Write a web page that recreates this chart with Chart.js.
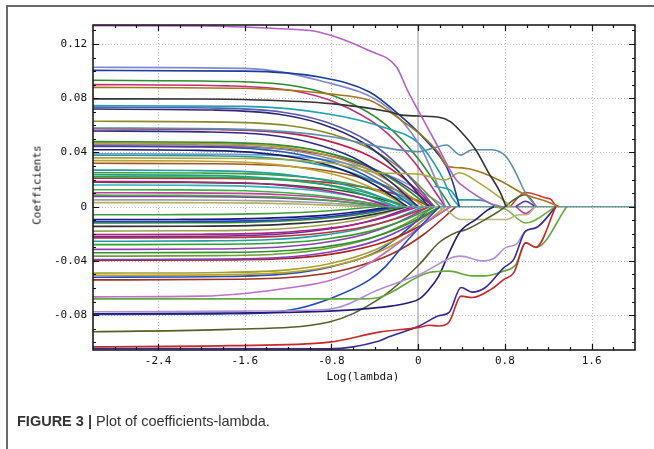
<!DOCTYPE html>
<html>
<head>
<meta charset="utf-8">
<script src="https://cdn.jsdelivr.net/npm/chart.js@4.4.1/dist/chart.umd.min.js"></script>
<style>
  html, body { margin: 0; padding: 0; background: #fff; }
  #wrap { position: relative; width: 654px; height: 449px; overflow: hidden; }
  #frame { position: absolute; left: 6px; top: 5px; width: 700px; height: 500px;
           border-top: 2px solid #6a6a6a; border-left: 2px solid #6a6a6a; }
  #plot { position: absolute; left: 0; top: 0; }
  .ttl { position: absolute; font-family: "DejaVu Sans Mono", monospace; font-size: 11px;
         color: #111; white-space: nowrap; }
  #ytitle { left: 37px; top: 185px; transform: translate(-50%, -50%) rotate(-90deg); }
  #xtitle { left: 363px; top: 376px; transform: translate(-50%, -50%); }
  #caption { position: absolute; left: 17px; top: 413px; font-family: "Liberation Sans", Arial, sans-serif;
             font-size: 14.5px; color: #333; white-space: nowrap; }
</style>
</head>
<body>
<div id="wrap">
  <div id="frame"></div>
  <canvas id="plot" width="654" height="449"></canvas>
  <div class="ttl" id="ytitle">Coefficients</div>
  <div class="ttl" id="xtitle">Log(lambda)</div>
  <div id="caption"><b>FIGURE 3 |</b> Plot of coefficients-lambda.</div>
</div>
<script>
// axes
const xTicks = [-2.4, -1.6, -0.8, 0, 0.8, 1.6];
const xTickLabels = ["-2.4", "-1.6", "-0.8", "0", "0.8", "1.6"];
const yTicks = [-0.08, -0.04, 0, 0.04, 0.08, 0.12];
const yTickLabels = ["-0.08", "-0.04", "0", "0.04", "0.08", "0.12"];

// paths that stand out (drawn on top)
const specialColors = ["#b55fc9", "#333333", "#a8741c", "#5b8fb2", "#a8a840", "#1c3c9c", "#8088d0", "#20a0b0",
  "#c82828", "#3a2898", "#b08fd8", "#62a83c", "#1e1e78", "#55602a", "#2448c0", "#c070c8",
  "#b8b880", "#70b040", "#d03838", "#6030a0", "#c040a0", "#20a0a0", "#6f9a9a"];
const specialPaths = [
  [[-3,.1335],[-2,.1333],[-1.6,.1325],[-1.2,.131],[-0.91,.1287],[-0.45,.115],[-0.2,.103],[-0.1,.086],[0,.071],[0.15,.049],[0.35,.0198],[0.4,.016],[0.65,.003],[0.77,0]],
  [[-3,.0795],[-2,.0794],[-1.6,.079],[-0.8,.076],[-0.27,.070],[-0.15,.0675],[0.19,.066],[0.3,.0626],[0.38,.0565],[0.53,.042],[0.65,.025],[0.76,.010],[0.81,0]],
  [[-3,.088],[-1.6,.0873],[-0.8,.083],[-0.45,.0785],[-0.36,.075],[-0.175,.065],[0.19,.0396],[0.26,.030],[0.405,.0286],[0.56,.026],[0.77,.0186],[0.99,.0088],[1.18,.004],[1.3,0]],
  [[-3,.058],[-1.6,.057],[-0.8,.0516],[-0.36,.0443],[0,.0406],[0.13,.043],[0.26,.0455],[0.39,.038],[0.5,.042],[0.68,.042],[0.81,.037],[0.9,.025],[0.99,.010],[1.06,.003],[1.09,0]],
  [[-3,.036],[-1.6,.0355],[-0.8,.032],[-0.36,.025],[0,.024],[0.25,.0198],[0.38,.025],[0.56,.0176],[0.74,.0076],[0.86,0]],
  [[-3,.1005],[-1.6,.1],[-0.91,.0956],[-0.45,.0846],[-0.15,.066],[0.07,.049],[0.26,.0296],[0.32,.0176],[0.38,0]],
  [[-3,.1028],[-1.6,.102],[-0.91,.093],[-0.29,.0736],[0,.047],[0.15,.022],[0.25,0]],
  [[-3,.0745],[-1.6,.074],[-0.8,.068],[-0.3,.058],[0,.047],[0.2,.025],[0.31,.007],[0.38,0]],
  [[-3,-.1033],[-1.74,-.1025],[-0.82,-.0999],[-0.36,-.0925],[0.01,-.089],[0.1,-.0875],[0.19,-.088],[0.285,-.085],[0.395,-.066],[0.497,-.067],[0.671,-.061],[0.791,-.0536],[0.883,-.0486],[0.993,-.0267],[1.085,-.03],[1.27,0]],
  [[-3,-.1045],[-0.82,-.1048],[-0.36,-.099],[-0.27,-.096],[0.01,-.088],[0.19,-.0805],[0.285,-.078],[0.395,-.0596],[0.497,-.063],[0.62,-.0596],[0.79,-.045],[0.88,-.039],[0.99,-.018],[1.085,-.0156],[1.27,0]],
  [[-3,-.0775],[-1.6,-.077],[-0.82,-.0756],[-0.36,-.061],[0.01,-.05],[0.39,-.0365],[0.59,-.04],[0.7,-.038],[0.81,-.03],[0.9,-.028],[0.99,-.018],[1.09,-.0156],[1.27,0]],
  [[-3,-.068],[-0.5,-.068],[-0.36,-.067],[0.1,-.0486],[0.285,-.0475],[0.497,-.051],[0.62,-.051],[0.79,-.0475],[0.9,-.0426],[0.99,-.0266],[1.09,-.03],[1.37,0]],
  [[-3,-.079],[-1.74,-.0785],[-0.82,-.077],[-0.27,-.0735],[-0.08,-.0707],[0.01,-.068],[0.1,-.061],[0.19,-.051],[0.285,-.034],[0.39,-.018],[0.53,-.0095],[0.65,-.002],[0.7,0]],
  [[-3,-.0922],[-1.74,-.0905],[-0.82,-.085],[-0.36,-.068],[0.01,-.0426],[0.19,-.0266],[0.35,-.019],[0.44,-.017],[0.65,-.008],[0.77,-.002],[0.88,.005],[0.99,.0088],[1.09,0]],
  [[-3,-.0795],[-1.74,-.079],[-1.2,-.0765],[-0.82,-.068],[-0.45,-.054],[-0.3,-.044],[-0.1,-.025],[0.1,-.008],[0.2,0]],
  [[-3,-.0665],[-2,-.066],[-1.6,-.064],[-1.2,-.06],[-0.8,-.054],[-0.5,-.044],[-0.2,-.028],[0.1,-.01],[0.3,0]],
  [[0.15,0],[0.25,-.002],[0.39,-.0095],[0.81,-.0095],[0.93,-.006],[1,-.006],[1.08,0]],
  [[0.7,0],[0.81,-.002],[0.99,-.012],[1.27,0]],
  [[0.85,0],[0.93,.0076],[0.99,.0105],[1.17,.0066],[1.23,.005],[1.27,0]],
  [[0.9,0],[0.99,.004],[1.08,0]],
  [[0.9,0],[0.99,-.005],[1.08,0]],
  [[0.15,.015],[0.3,.012],[0.38,.005],[0.5,.005],[0.62,.004],[0.72,0]],
  [[-0.3,0],[2,0]]
];

// the bulk of positive coefficients
const posColors = ["#2e8b2e", "#c0307a", "#5a5ab8", "#2a2a70", "#8a8a2a", "#c02050", "#2a2a80", "#2e8b2e",
  "#b8962a", "#8c8c8c", "#6a2a9a", "#2a5ab8", "#1a1a6a", "#6aa0d0", "#2a9a9a", "#c0a030", "#a05a20",
  "#20a0a0", "#40a040", "#20a080", "#30a050", "#b02080", "#206020", "#30b0c0", "#40b040", "#c040a0",
  "#50a050", "#8040a0", "#a0a0a0", "#b0b060", "#c03030"];
const posPaths = [
  [[-3,.0932],[-1.7,.0923],[-1.1,.0885],[-0.7,.0792],[-0.3,.0606],[0,.0354],[0.3,0]],
  [[-3,.090],[-1.75,.0891],[-1.15,.0855],[-0.75,.0765],[-0.35,.0585],[-0.05,.0342],[0.25,0]],
  [[-3,.0734],[-1.85,.0727],[-1.25,.0697],[-0.85,.0624],[-0.45,.0477],[-0.15,.0279],[0.15,0]],
  [[-3,.072],[-1.9,.0713],[-1.3,.0684],[-0.9,.0612],[-0.5,.0468],[-0.2,.0274],[0.1,0]],
  [[-3,.063],[-1.8,.0624],[-1.2,.0599],[-0.8,.0536],[-0.4,.041],[-0.1,.0239],[0.2,0]],
  [[-3,.0575],[-1.85,.0569],[-1.25,.0546],[-0.85,.0489],[-0.45,.0374],[-0.15,.0219],[0.15,0]],
  [[-3,.0558],[-2,.0552],[-1.4,.053],[-1,.0474],[-0.6,.0363],[-0.3,.0212],[0,0]],
  [[-3,.048],[-1.9,.0475],[-1.3,.0456],[-0.9,.0408],[-0.5,.0312],[-0.2,.0182],[0.1,0]],
  [[-3,.047],[-1.95,.0465],[-1.35,.0447],[-0.95,.04],[-0.55,.0306],[-0.25,.0179],[0.05,0]],
  [[-3,.046],[-2,.0455],[-1.4,.0437],[-1,.0391],[-0.6,.0299],[-0.3,.0175],[0,0]],
  [[-3,.0448],[-1.85,.0444],[-1.25,.0426],[-0.85,.0381],[-0.45,.0291],[-0.15,.017],[0.15,0]],
  [[-3,.0445],[-2.05,.0441],[-1.45,.0423],[-1.05,.0378],[-0.65,.0289],[-0.35,.0169],[-0.05,0]],
  [[-3,.042],[-2.1,.0416],[-1.5,.0399],[-1.1,.0357],[-0.7,.0273],[-0.4,.016],[-0.1,0]],
  [[-3,.039],[-1.75,.0386],[-1.15,.0371],[-0.75,.0332],[-0.35,.0254],[-0.05,.0148],[0.25,0]],
  [[-3,.038],[-2,.0376],[-1.4,.0361],[-1,.0323],[-0.6,.0247],[-0.3,.0144],[0,0]],
  [[-3,.034],[-2.1,.0337],[-1.5,.0323],[-1.1,.0289],[-0.7,.0221],[-0.4,.0129],[-0.1,0]],
  [[-3,.032],[-1.9,.0317],[-1.3,.0304],[-0.9,.0272],[-0.5,.0208],[-0.2,.0122],[0.1,0]],
  [[-3,.027],[-2.15,.0267],[-1.55,.0257],[-1.15,.023],[-0.75,.0176],[-0.45,.0103],[-0.15,0]],
  [[-3,.025],[-2,.0248],[-1.4,.0238],[-1,.0213],[-0.6,.0163],[-0.3,.0095],[0,0]],
  [[-3,.0235],[-2.2,.0233],[-1.6,.0223],[-1.2,.02],[-0.8,.0153],[-0.5,.0089],[-0.2,0]],
  [[-3,.022],[-2.1,.0218],[-1.5,.0209],[-1.1,.0187],[-0.7,.0143],[-0.4,.0084],[-0.1,0]],
  [[-3,.0185],[-2.25,.0183],[-1.65,.0176],[-1.25,.0157],[-0.85,.012],[-0.55,.007],[-0.25,0]],
  [[-3,.018],[-2.1,.0178],[-1.5,.0171],[-1.1,.0153],[-0.7,.0117],[-0.4,.0068],[-0.1,0]],
  [[-3,.016],[-2.2,.0158],[-1.6,.0152],[-1.2,.0136],[-0.8,.0104],[-0.5,.0061],[-0.2,0]],
  [[-3,.0125],[-2.3,.0124],[-1.7,.0119],[-1.3,.0106],[-0.9,.0081],[-0.6,.0048],[-0.3,0]],
  [[-3,.0103],[-2.25,.0102],[-1.65,.0098],[-1.25,.0088],[-0.85,.0067],[-0.55,.0039],[-0.25,0]],
  [[-3,.0085],[-2.35,.0084],[-1.75,.0081],[-1.35,.0072],[-0.95,.0055],[-0.65,.0032],[-0.35,0]],
  [[-3,.0076],[-2.3,.0075],[-1.7,.0072],[-1.3,.0065],[-0.9,.0049],[-0.6,.0029],[-0.3,0]],
  [[-3,.005],[-2.4,.005],[-1.8,.0048],[-1.4,.0043],[-1,.0033],[-0.7,.0019],[-0.4,0]],
  [[-3,.003],[-2.5,.003],[-1.9,.0029],[-1.5,.0026],[-1.1,.002],[-0.8,.0011],[-0.5,0]],
  [[-3,.021],[-1.85,.0208],[-1.25,.02],[-0.85,.0179],[-0.45,.0137],[-0.15,.008],[0.15,0]]
];

// the bulk of negative coefficients
const negColors = ["#40a040", "#1a1a80", "#2040c0", "#2e8b2e", "#303030", "#a0a050", "#b02080", "#6030a0",
  "#c03040", "#20a0a0", "#30a030", "#9040b0", "#309030", "#70a030", "#8040c0", "#b02020", "#a0a030",
  "#c0a020", "#2050c0", "#a03020"];
const negPaths = [
  [[-3,-.006],[-2.4,-.0059],[-1.8,-.0057],[-1.4,-.0051],[-1,-.0039],[-0.7,-.0023],[-0.4,0]],
  [[-3,-.0095],[-2.25,-.0094],[-1.65,-.009],[-1.25,-.0081],[-0.85,-.0062],[-0.55,-.0036],[-0.25,0]],
  [[-3,-.011],[-2.2,-.0109],[-1.6,-.0105],[-1.2,-.0094],[-0.8,-.0072],[-0.5,-.0042],[-0.2,0]],
  [[-3,-.012],[-2.15,-.0119],[-1.55,-.0114],[-1.15,-.0102],[-0.75,-.0078],[-0.45,-.0046],[-0.15,0]],
  [[-3,-.0145],[-2.1,-.0144],[-1.5,-.0138],[-1.1,-.0123],[-0.7,-.0094],[-0.4,-.0055],[-0.1,0]],
  [[-3,-.018],[-2.1,-.0178],[-1.5,-.0171],[-1.1,-.0153],[-0.7,-.0117],[-0.4,-.0068],[-0.1,0]],
  [[-3,-.0205],[-2,-.0203],[-1.4,-.0195],[-1,-.0174],[-0.6,-.0133],[-0.3,-.0078],[0,0]],
  [[-3,-.022],[-2.05,-.0218],[-1.45,-.0209],[-1.05,-.0187],[-0.65,-.0143],[-0.35,-.0084],[-0.05,0]],
  [[-3,-.023],[-1.9,-.0228],[-1.3,-.0219],[-0.9,-.0196],[-0.5,-.015],[-0.2,-.0087],[0.1,0]],
  [[-3,-.0255],[-1.95,-.0252],[-1.35,-.0242],[-0.95,-.0217],[-0.55,-.0166],[-0.25,-.0097],[0.05,0]],
  [[-3,-.028],[-1.85,-.0277],[-1.25,-.0266],[-0.85,-.0238],[-0.45,-.0182],[-0.15,-.0106],[0.15,0]],
  [[-3,-.0315],[-1.9,-.0312],[-1.3,-.0299],[-0.9,-.0268],[-0.5,-.0205],[-0.2,-.012],[0.1,0]],
  [[-3,-.034],[-1.8,-.0337],[-1.2,-.0323],[-0.8,-.0289],[-0.4,-.0221],[-0.1,-.0129],[0.2,0]],
  [[-3,-.0365],[-1.85,-.0361],[-1.25,-.0347],[-0.85,-.031],[-0.45,-.0237],[-0.15,-.0139],[0.15,0]],
  [[-3,-.039],[-1.8,-.0386],[-1.2,-.0371],[-0.8,-.0332],[-0.4,-.0254],[-0.1,-.0148],[0.2,0]],
  [[-3,-.0396],[-1.7,-.0392],[-1.1,-.0376],[-0.7,-.0337],[-0.3,-.0257],[0,-.015],[0.3,0]],
  [[-3,-.049],[-1.8,-.0485],[-1.2,-.0466],[-0.8,-.0417],[-0.4,-.0319],[-0.1,-.0186],[0.2,0]],
  [[-3,-.0506],[-1.75,-.0501],[-1.15,-.0481],[-0.75,-.043],[-0.35,-.0329],[-0.05,-.0192],[0.25,0]],
  [[-3,-.052],[-1.8,-.0515],[-1.2,-.0494],[-0.8,-.0442],[-0.4,-.034],[-0.18,-.022],[0,-.0095],[0.1,-.002],[0.15,0]],
  [[-3,-.054],[-1.65,-.0535],[-1.05,-.0513],[-0.65,-.0459],[-0.25,-.0351],[0.05,-.0205],[0.35,0]]
];

function toSet(path, color) {
  return {
    data: path.map(p => ({ x: p[0], y: p[1] })),
    borderColor: color, borderWidth: 1.6, pointRadius: 0, fill: false,
    cubicInterpolationMode: "monotone"
  };
}

// dataset 0 is drawn last, so the special paths go first
const datasets = []
  .concat(specialPaths.map((p, i) => toSet(p, specialColors[i])))
  .concat(posPaths.map((p, i) => toSet(p, posColors[i])))
  .concat(negPaths.map((p, i) => toSet(p, negColors[i])));

// dotted grid under the lines, boxed frame and inward ticks over them
const axisDecor = {
  id: "axisDecor",
  beforeDatasetsDraw(chart) {
    const { ctx, chartArea: a, scales: { x, y } } = chart;
    ctx.save();
    ctx.strokeStyle = "#bdbdbd"; ctx.lineWidth = 1; ctx.setLineDash([1, 2]);
    xTicks.forEach(v => {
      if (v === 0) return;
      const px = Math.round(x.getPixelForValue(v)) + 0.5;
      ctx.beginPath(); ctx.moveTo(px, a.top); ctx.lineTo(px, a.bottom); ctx.stroke();
    });
    yTicks.forEach(v => {
      const py = Math.round(y.getPixelForValue(v)) + 0.5;
      ctx.beginPath(); ctx.moveTo(a.left, py); ctx.lineTo(a.right, py); ctx.stroke();
    });
    ctx.setLineDash([]);
    ctx.strokeStyle = "#c8c8c8"; ctx.lineWidth = 2;
    const x0 = Math.round(x.getPixelForValue(0));
    ctx.beginPath(); ctx.moveTo(x0, a.top); ctx.lineTo(x0, a.bottom); ctx.stroke();
    ctx.restore();
  },
  afterDatasetsDraw(chart) {
    const { ctx, chartArea: a, scales: { x, y } } = chart;
    ctx.save();
    ctx.strokeStyle = "#111"; ctx.lineWidth = 1.5;
    ctx.strokeRect(a.left, a.top, a.right - a.left, a.bottom - a.top);
    ctx.lineWidth = 1.2;
    for (let i = -14; i <= 9; i++) {
      const v = i * 0.2, len = (i % 4 === 0) ? 6 : 3;
      const px = Math.round(x.getPixelForValue(v)) + 0.5;
      ctx.beginPath();
      ctx.moveTo(px, a.bottom); ctx.lineTo(px, a.bottom - len);
      ctx.moveTo(px, a.top); ctx.lineTo(px, a.top + len);
      ctx.stroke();
    }
    for (let i = -10; i <= 13; i++) {
      const v = i * 0.01, len = (i % 4 === 0) ? 6 : 3;
      const py = Math.round(y.getPixelForValue(v)) + 0.5;
      ctx.beginPath();
      ctx.moveTo(a.left, py); ctx.lineTo(a.left + len, py);
      ctx.moveTo(a.right, py); ctx.lineTo(a.right - len, py);
      ctx.stroke();
    }
    ctx.restore();
  }
};

const tickFont = { family: "DejaVu Sans Mono", size: 11 };

new Chart(document.getElementById("plot"), {
  type: "line",
  data: { datasets },
  options: {
    responsive: false, animation: false, devicePixelRatio: 1,
    layout: { padding: { top: 25, right: 19, left: 0, bottom: 0 } },
    plugins: { legend: { display: false }, tooltip: { enabled: false } },
    scales: {
      x: {
        type: "linear", min: -3, max: 2,
        grid: { display: false, drawTicks: false }, border: { display: false },
        afterBuildTicks: s => { s.ticks = xTicks.map(v => ({ value: v })); },
        afterFit: s => { s.height = 99; },
        ticks: { padding: 5, color: "#111", font: tickFont, maxRotation: 0, autoSkip: false,
                 callback: (v, i) => xTickLabels[i] }
      },
      y: {
        type: "linear", min: -0.1057, max: 0.134,
        grid: { display: false, drawTicks: false }, border: { display: false },
        afterBuildTicks: s => { s.ticks = yTicks.map(v => ({ value: v })); },
        afterFit: s => { s.width = 93; },
        ticks: { padding: 6, color: "#111", font: tickFont, autoSkip: false,
                 callback: (v, i) => yTickLabels[i] }
      }
    }
  },
  plugins: [axisDecor]
});
</script>
</body>
</html>
